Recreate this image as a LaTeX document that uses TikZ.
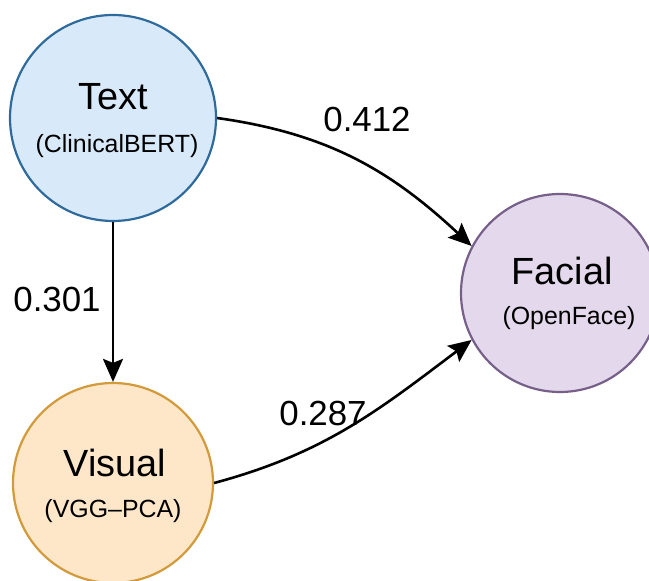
\documentclass[tikz,border=0pt]{standalone}
\usepackage{fontspec}
\setmainfont{Liberation Sans}
\usetikzlibrary{arrows.meta}

\definecolor{textfill}{HTML}{D8EAF9}
\definecolor{textline}{HTML}{2F6A9C}
\definecolor{visfill}{HTML}{FDE7C8}
\definecolor{visline}{HTML}{D39A3C}
\definecolor{facefill}{HTML}{E4D8EC}
\definecolor{faceline}{HTML}{76608A}

\tikzset{
  modality/.style={circle, draw, line width=2.2bp, inner sep=0pt},
  mainname/.style={anchor=base, inner sep=0pt, font=\fontsize{38}{41}\selectfont},
  subname/.style={anchor=base, inner sep=0pt, font=\fontsize{25}{28}\selectfont},
  weight/.style={inner sep=0pt, font=\fontsize{35}{38}\selectfont},
  link/.style={line width=2.6bp, -{Stealth[length=23bp,width=20bp,inset=4bp]}},
}

\begin{document}
\begin{tikzpicture}[x=1bp,y=1bp]
  \useasboundingbox (0,0) rectangle (649,581);

  % modality circles
  \node[modality, fill=textfill, draw=textline, minimum size=206bp] (t) at (113,463) {};
  \node[modality, fill=visfill, draw=visline, minimum size=200bp] (v) at (113,98) {};
  \node[modality, fill=facefill, draw=faceline, minimum size=198bp] (f) at (560,288) {};

  % names and encoders
  \node[mainname] (tname) at (113,471) {Text};
  \node[subname] (tsub) at (117,428) {(ClinicalBERT)};
  \node[mainname] (vname) at (115,104) {Visual};
  \node[subname] (vsub) at (113,63) {(VGG--PCA)};
  \node[mainname] (fname) at (562,296) {Facial};
  \node[subname] (fsub) at (569,256) {(OpenFace)};

  % weighted links
  \draw[link] (t.south) -- (v.north);
  \draw[link] (t.0) to[out=-8, in=137] (f.152);
  \draw[link] (v.0) to[out=15, in=217] (f.208);

  % link weights
  \node[weight] (w1) at (57,281) {0.301};
  \node[weight] (w2) at (367,461) {0.412};
  \node[weight] (w3) at (323,167) {0.287};
\end{tikzpicture}
\end{document}
